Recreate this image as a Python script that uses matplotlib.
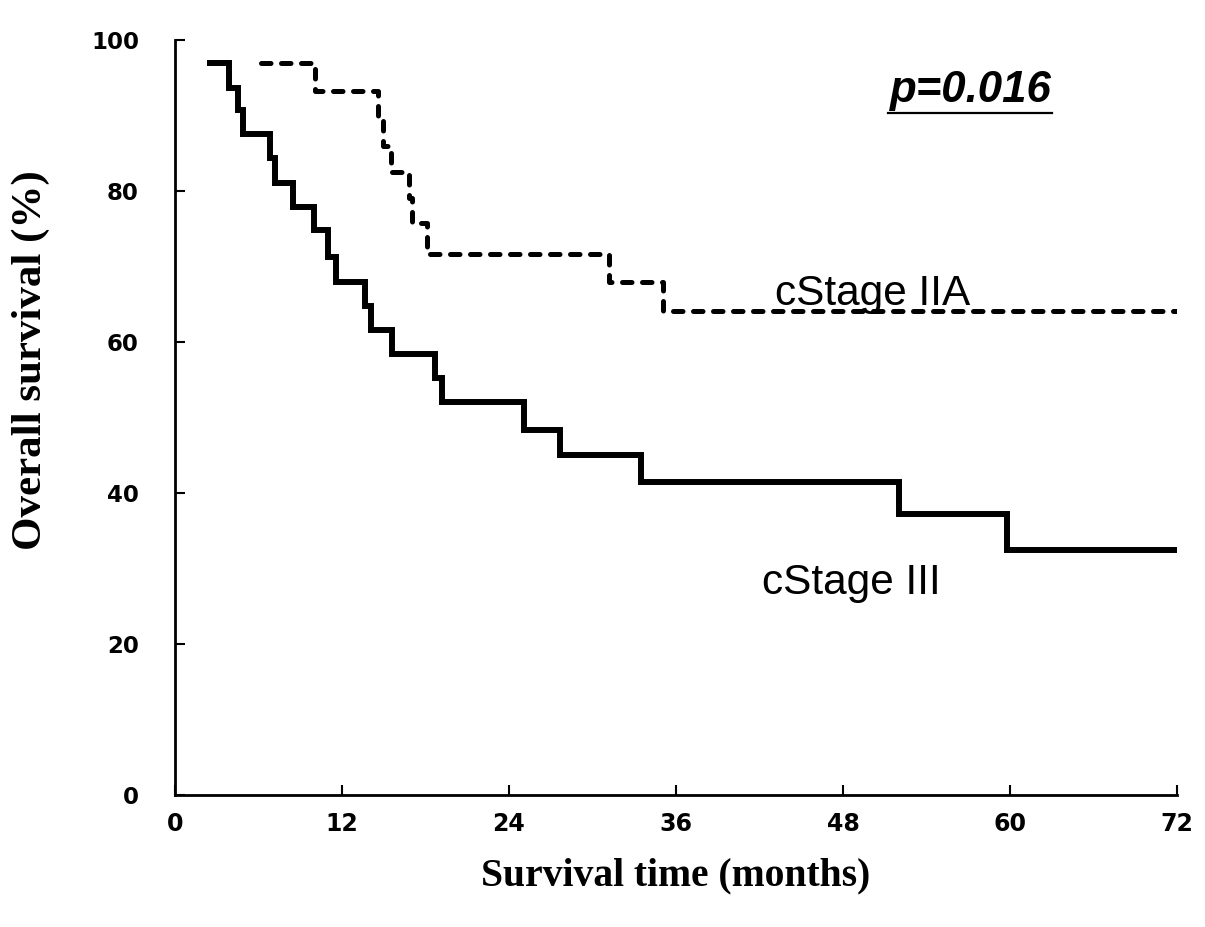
import matplotlib
matplotlib.use("Agg")
import matplotlib.pyplot as plt
from matplotlib.lines import Line2D

# Kaplan-Meier steps (months, % surviving)
t_iii = [2.5, 3.9, 4.55, 4.86, 6.8, 7.2, 8.5, 10.0, 11.0, 11.6, 13.65, 14.1,
         15.6, 18.7, 19.2, 25.1, 27.7, 33.5, 52.0, 59.75, 72.0]
s_iii = [96.9, 93.7, 90.7, 87.5, 84.4, 81.1, 77.9, 74.8, 71.3, 68.0, 64.8, 61.6,
         58.4, 55.2, 52.0, 48.4, 45.0, 41.4, 37.2, 32.5, 32.5]

t_iia = [6.2, 10.06, 14.6, 14.95, 15.5, 16.8, 17.0, 18.1, 31.2, 35.1, 72.0]
s_iia = [96.9, 93.2, 89.6, 86.0, 82.5, 79.1, 75.7, 71.7, 68.0, 64.1, 64.1]

x_ticks = [0, 12, 24, 36, 48, 60, 72]
y_ticks = [0, 20, 40, 60, 80, 100]

fig = plt.figure(figsize=(12.05, 9.27), dpi=100)
ax = fig.add_axes([175 / 1205, 132 / 927, 1002 / 1205, 755 / 927])

ax.step(t_iii, s_iii, where='post', color='black', linewidth=4.3,
        solid_joinstyle='miter')
ax.step(t_iia, s_iia, where='post', color='black', linewidth=3.6,
        linestyle=(0, (1.9, 2.1)), dash_capstyle='round')

ax.set_xlim(0, 72)
ax.set_ylim(0, 100)
ax.set_xticks(x_ticks)
ax.set_yticks(y_ticks)
ax.spines['top'].set_visible(False)
ax.spines['right'].set_visible(False)
ax.spines['left'].set_linewidth(2)
ax.spines['bottom'].set_linewidth(2)
ax.tick_params(direction='in', length=7, width=1.5)
ax.tick_params(axis='y', pad=26)
ax.tick_params(axis='x', pad=12)

for lab in ax.get_yticklabels():
    lab.set_fontfamily('DejaVu Sans')
    lab.set_fontweight('bold')
    lab.set_fontsize(16.5)
for lab in ax.get_xticklabels():
    lab.set_fontfamily('DejaVu Sans')
    lab.set_fontweight('bold')
    lab.set_fontsize(17)

ax.set_xlabel('Survival time (months)', fontfamily='Liberation Serif',
              fontweight='bold', fontsize=28.5, labelpad=16)
ax.set_ylabel('Overall survival (%)', fontfamily='Liberation Serif',
              fontweight='bold', fontsize=31)
ax.yaxis.set_label_coords(-0.125, 0.576)

ax.text(43.1, 64.9, 'cStage IIA', fontfamily='Liberation Sans', fontsize=30.5,
        va='baseline', ha='left')
ax.text(42.2, 26.6, 'cStage III', fontfamily='Liberation Sans', fontsize=30.5,
        va='baseline', ha='left')
ptxt = ax.text(51.4, 91.8, 'p=0.016', fontfamily='Liberation Sans',
               fontweight='bold', fontstyle='italic', fontsize=31.5,
               va='baseline', ha='left')

# underline under the p value
fig.canvas.draw()
bb = ptxt.get_window_extent()
uy = bb.y0 - 2
fig.add_artist(Line2D([bb.x0 - 2, bb.x1], [uy, uy], transform=None,
                      color='black', linewidth=1.6))

fig.savefig('out.png', dpi=100)
